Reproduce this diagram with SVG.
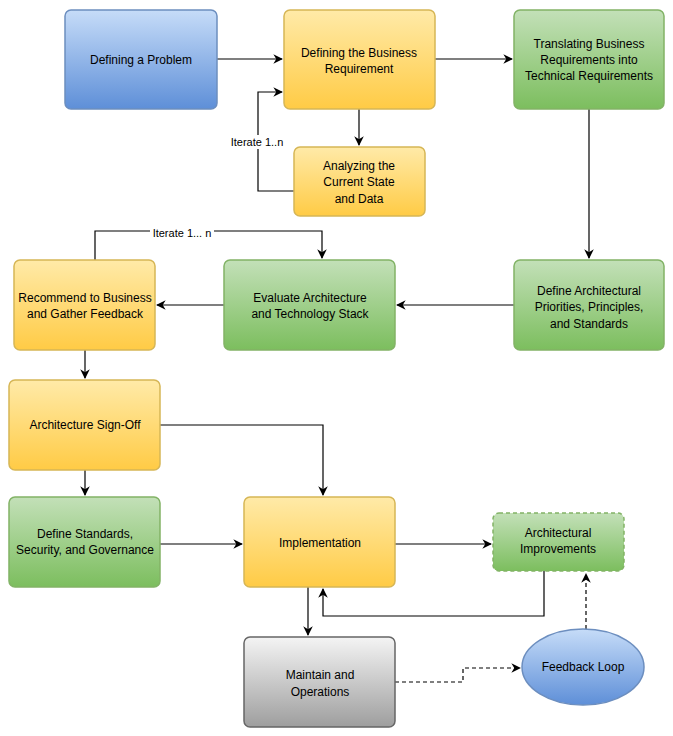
<svg xmlns="http://www.w3.org/2000/svg" width="673" height="736" viewBox="0 0 673 736">
<defs>
<linearGradient id="gB" x1="0" y1="0" x2="0" y2="1"><stop offset="0" stop-color="#c6dcf8"/><stop offset="1" stop-color="#5e8fd8"/></linearGradient>
<linearGradient id="gY" x1="0" y1="0" x2="0" y2="1"><stop offset="0" stop-color="#ffeaa8"/><stop offset="1" stop-color="#ffcb45"/></linearGradient>
<linearGradient id="gG" x1="0" y1="0" x2="0" y2="1"><stop offset="0" stop-color="#c3e0b8"/><stop offset="1" stop-color="#7cbe5e"/></linearGradient>
<linearGradient id="gS" x1="0" y1="0" x2="0" y2="1"><stop offset="0" stop-color="#f4f4f4"/><stop offset="1" stop-color="#9e9e9e"/></linearGradient>
<marker id="a" viewBox="0 0 10 10" refX="9" refY="5" markerWidth="8" markerHeight="8" orient="auto"><path d="M0,0 L10,5 L0,10 L3,5 z" fill="#000"/></marker>
<style>
.b{stroke:#6c8ebf;fill:url(#gB);stroke-width:1.5}
.y{stroke:#d6b656;fill:url(#gY);stroke-width:1.5}
.g{stroke:#82b366;fill:url(#gG);stroke-width:1.5}
.s{stroke:#666;fill:url(#gS);stroke-width:1.5}
text{font-family:"Liberation Sans",Arial,sans-serif;font-size:12px;fill:#000;text-anchor:middle}
.c path{fill:none;stroke:#000;stroke-width:1.2}
.d{stroke-dasharray:4 3}
.lbl{font-size:11px}
</style>
</defs>
<g class="c">
<path d="M217,59 H282" marker-end="url(#a)"/>
<path d="M435,59 H512" marker-end="url(#a)"/>
<path d="M359,109 V145" marker-end="url(#a)"/>
<path d="M294,191 H258 V92 H282" marker-end="url(#a)"/>
<path d="M589,109 V258" marker-end="url(#a)"/>
<path d="M514,305 H397" marker-end="url(#a)"/>
<path d="M224,305 H157" marker-end="url(#a)"/>
<path d="M95,260 V231 H322 V258" marker-end="url(#a)"/>
<path d="M85,350 V378" marker-end="url(#a)"/>
<path d="M160,425 H323 V495" marker-end="url(#a)"/>
<path d="M85,470 V495" marker-end="url(#a)"/>
<path d="M160,544 H242" marker-end="url(#a)"/>
<path d="M395,544 H491" marker-end="url(#a)"/>
<path d="M544,571 V616 H323 V589" marker-end="url(#a)"/>
<path d="M308,587 V635" marker-end="url(#a)"/>
<path class="d" d="M395,682 H463 V668 H520" marker-end="url(#a)"/>
<path class="d" d="M586,629 V574" marker-end="url(#a)"/>
<rect x="226" y="135" width="62" height="14" fill="#fff"/>
<text class="lbl" x="257" y="146">Iterate 1..n</text>
<rect x="150" y="226" width="64" height="12" fill="#fff"/>
<text class="lbl" x="182" y="237">Iterate 1... n</text>
</g>
<g id="n1"><rect class="b" x="65" y="10" width="152" height="99" rx="6"/><text x="141" y="64">Defining a Problem</text></g>
<g id="n2"><rect class="y" x="284" y="10" width="151" height="99" rx="6"/><text x="359" y="57">Defining the Business</text><text x="359" y="73">Requirement</text></g>
<g id="n3"><rect class="g" x="514" y="10" width="150" height="99" rx="6"/><text x="589" y="48">Translating Business</text><text x="589" y="64">Requirements into</text><text x="589" y="80">Technical Requirements</text></g>
<g id="n4"><rect class="y" x="294" y="147" width="131" height="69" rx="6"/><text x="359" y="170">Analyzing the</text><text x="359" y="186">Current State</text><text x="359" y="203">and Data</text></g>
<g id="n5"><rect class="y" x="14" y="260" width="141" height="90" rx="6"/><text x="85" y="302">Recommend to Business</text><text x="85" y="318">and Gather Feedback</text></g>
<g id="n6"><rect class="g" x="224" y="260" width="171" height="90" rx="6"/><text x="310" y="302">Evaluate Architecture</text><text x="310" y="318">and Technology Stack</text></g>
<g id="n7"><rect class="g" x="514" y="260" width="150" height="90" rx="6"/><text x="589" y="295">Define Architectural</text><text x="589" y="311">Priorities, Principles,</text><text x="589" y="328">and Standards</text></g>
<g id="n8"><rect class="y" x="9" y="380" width="151" height="90" rx="6"/><text x="85" y="429">Architecture Sign-Off</text></g>
<g id="n9"><rect class="g" x="9" y="497" width="151" height="90" rx="6"/><text x="85" y="538">Define Standards,</text><text x="85" y="554">Security, and Governance</text></g>
<g id="n10"><rect class="y" x="244" y="497" width="151" height="90" rx="6"/><text x="320" y="547">Implementation</text></g>
<g id="n11"><rect class="g d" x="493" y="513" width="131" height="58" rx="6"/><text x="558" y="537">Architectural</text><text x="558" y="553">Improvements</text></g>
<g id="n12"><rect class="s" x="244" y="637" width="151" height="90" rx="6"/><text x="320" y="679">Maintain and</text><text x="320" y="696">Operations</text></g>
<g id="n13"><ellipse class="b" cx="583" cy="667" rx="61" ry="38"/><text x="583" y="671">Feedback Loop</text></g>
</svg>
